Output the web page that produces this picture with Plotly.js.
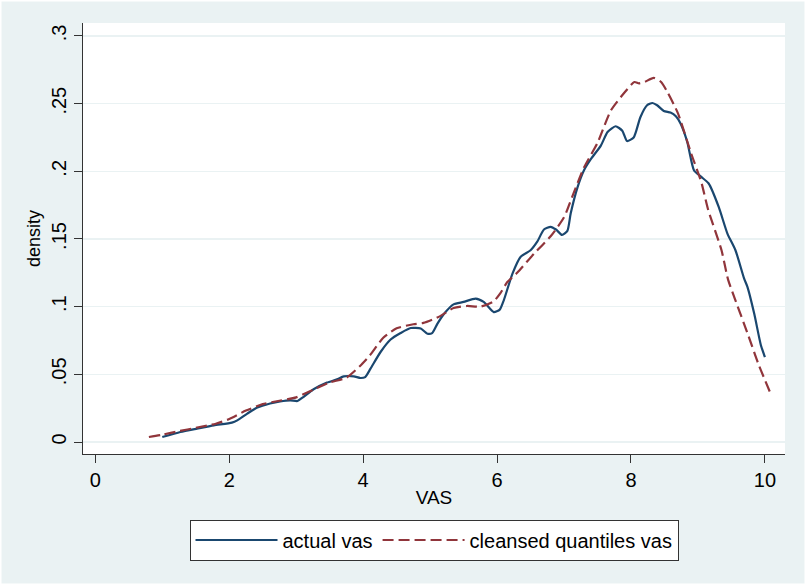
<!DOCTYPE html>
<html>
<head>
<meta charset="utf-8">
<script src="https://cdn.plot.ly/plotly-3.0.1.min.js"></script>
<style>html,body{margin:0;padding:0;background:#EAF2F3;}#chart{width:806px;height:585px;}</style>
</head>
<body>
<div id="chart"></div>
<script>
// actual vas (kernel density)
var actualX = [1.0,1.27,1.52,1.77,2.04,2.12,2.27,2.42,2.61,2.76,2.91,3.02,3.1,3.26,3.46,3.61,3.71,3.86,3.96,4.03,4.11,4.26,4.41,4.56,4.71,4.86,4.96,5.03,5.11,5.23,5.35,5.5,5.68,5.8,5.95,6.04,6.1,6.23,6.35,6.5,6.6,6.7,6.8,6.88,6.97,7.05,7.1,7.2,7.3,7.4,7.55,7.65,7.77,7.87,7.94,8.04,8.14,8.24,8.32,8.39,8.49,8.59,8.67,8.74,8.84,8.94,9.04,9.16,9.31,9.44,9.56,9.69,9.74,9.84,9.94,10.0];
var actualY = [0.0037,0.0074,0.0099,0.0123,0.0143,0.016,0.021,0.0254,0.0284,0.030,0.0308,0.0303,0.033,0.039,0.0439,0.0463,0.0485,0.0485,0.0473,0.048,0.0542,0.0665,0.0757,0.0805,0.0842,0.0838,0.080,0.0805,0.0875,0.096,0.1017,0.1035,0.106,0.1035,0.096,0.0978,0.1047,0.1244,0.1367,0.1417,0.148,0.157,0.159,0.157,0.153,0.156,0.169,0.188,0.201,0.209,0.219,0.229,0.2333,0.230,0.2224,0.225,0.240,0.2488,0.2505,0.2488,0.2446,0.2434,0.2407,0.2353,0.2217,0.2008,0.1963,0.191,0.1737,0.154,0.1417,0.1207,0.1145,0.0949,0.0715,0.0628];
// cleansed quantiles vas
var cleansedX = [0.8,1.0,1.25,1.5,1.8,2.0,2.25,2.5,2.75,3.0,3.25,3.5,3.75,3.95,4.1,4.3,4.5,4.75,4.9,5.15,5.35,5.55,5.75,5.95,6.05,6.15,6.3,6.55,6.8,7.0,7.12,7.3,7.5,7.7,7.9,8.05,8.12,8.2,8.34,8.45,8.55,8.7,8.9,9.05,9.15,9.35,9.45,9.55,9.75,9.9,10.1];
var cleansedY = [0.0037,0.0054,0.008,0.0105,0.0135,0.017,0.0232,0.028,0.0305,0.033,0.0385,0.044,0.0475,0.056,0.064,0.077,0.084,0.087,0.088,0.093,0.099,0.1005,0.1,0.104,0.11,0.118,0.125,0.139,0.152,0.166,0.181,0.203,0.221,0.245,0.258,0.266,0.265,0.266,0.269,0.266,0.258,0.243,0.213,0.192,0.172,0.142,0.12,0.106,0.079,0.058,0.034];
var seriesNames = ['actual vas', 'cleansed quantiles vas'];
var xTicks = [0,2,4,6,8,10];
var xTickText = ['0','2','4','6','8','10'];
var yTicks = [0,0.05,0.1,0.15,0.2,0.25,0.3];
var yTickText = ['0','.05','.1','.15','.2','.25','.3'];

var font = 'Liberation Sans, Arial, sans-serif';
var traces = [
  {x: actualX, y: actualY, name: seriesNames[0], type: 'scatter', mode: 'lines',
   line: {color: '#1A476F', width: 2.2, shape: 'spline', smoothing: 0.6}},
  {x: cleansedX, y: cleansedY, name: seriesNames[1], type: 'scatter', mode: 'lines',
   line: {color: '#90353B', width: 2.2, dash: '11px,5px', shape: 'spline', smoothing: 0.6}}
];
var layout = {
  width: 806, height: 585,
  paper_bgcolor: '#EAF2F3', plot_bgcolor: '#FFFFFF',
  margin: {l: 83, r: 21, t: 23, b: 131, pad: 0},
  font: {family: font, size: 18, color: '#000'},
  showlegend: true,
  legend: {orientation: 'h', x: 0.5, xanchor: 'center', y: -0.152, yanchor: 'top',
           bgcolor: '#FFFFFF', bordercolor: '#333', borderwidth: 1,
           font: {family: font, size: 20, color: '#000'}, itemwidth: 82, traceorder: 'normal'},
  xaxis: {range: [-0.184, 10.30], tickvals: xTicks, ticktext: xTickText,
          ticks: 'outside', ticklen: 8, tickcolor: '#333', tickwidth: 1,
          showline: true, linecolor: '#333', linewidth: 1, showgrid: false, zeroline: false,
          tickfont: {family: font, size: 20, color: '#000'},
          title: {text: 'VAS', font: {family: font, size: 19, color: '#000'}, standoff: 0}},
  yaxis: {range: [-0.00887, 0.3096], tickvals: yTicks, ticktext: yTickText, tickangle: -90,
          ticks: 'outside', ticklen: 8, tickcolor: '#333', tickwidth: 1,
          showline: true, linecolor: '#333', linewidth: 1,
          showgrid: true, gridcolor: '#EAF2F3', gridwidth: 1.5, zeroline: false,
          tickfont: {family: font, size: 20, color: '#000'},
          title: {text: 'density', font: {family: font, size: 18, color: '#000'}, standoff: 2}},
  shapes: [{type: 'rect', xref: 'paper', yref: 'paper',
            x0: -83/702, x1: 1 + 21/702, y0: -131/431, y1: 1 + 23/431,
            line: {color: '#FFFFFF', width: 3}, fillcolor: 'rgba(0,0,0,0)', layer: 'below'}]
};
Plotly.newPlot('chart', traces, layout, {displayModeBar: false, staticPlot: true});
</script>
</body>
</html>
